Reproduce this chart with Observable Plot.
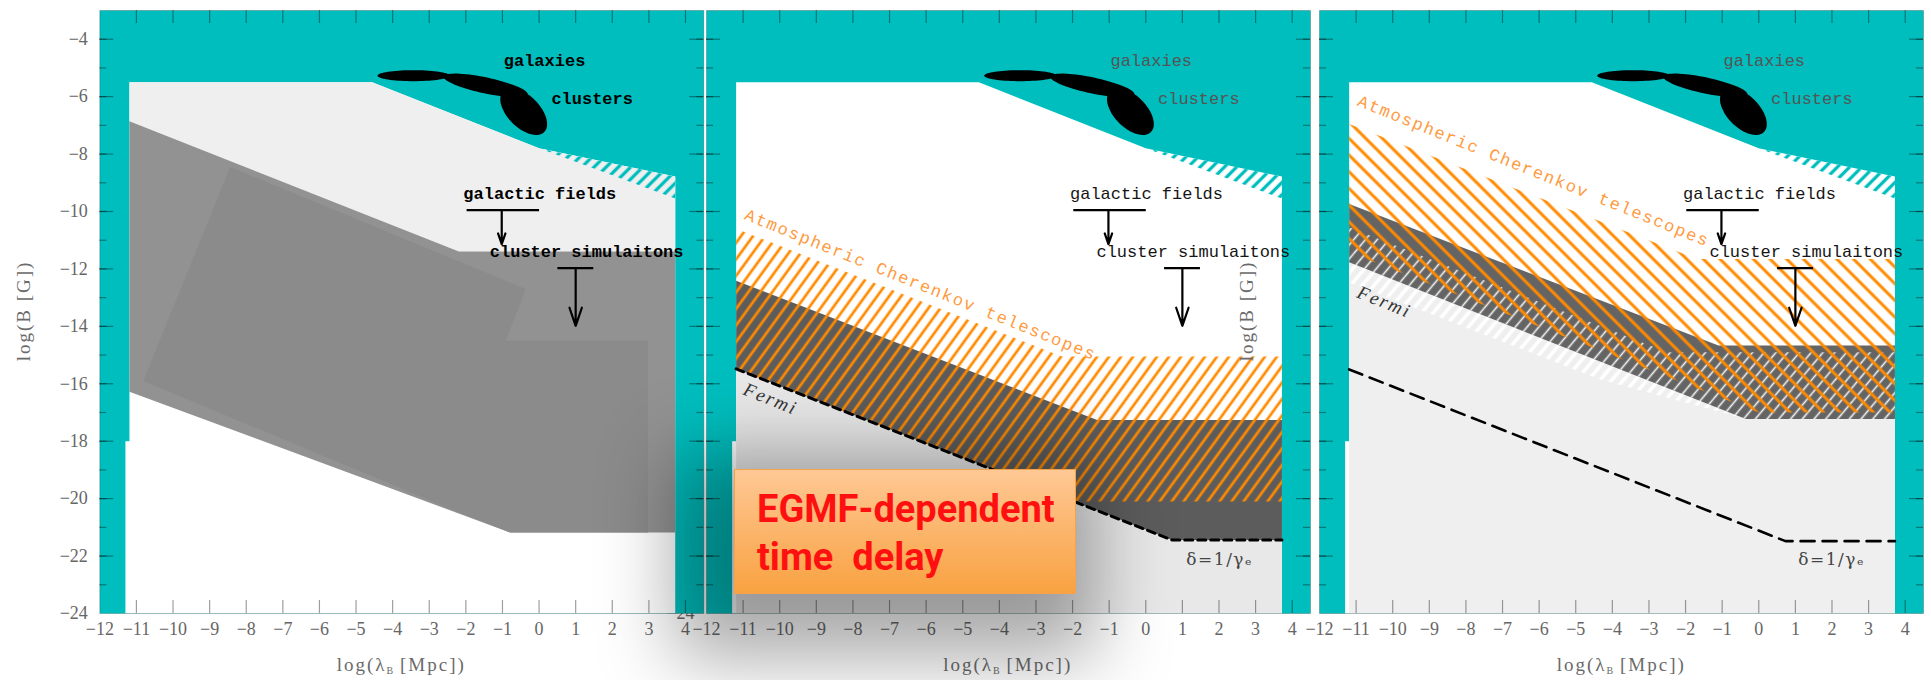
<!DOCTYPE html>
<html>
<head>
<meta charset="utf-8">
<script src="https://cdn.jsdelivr.net/npm/d3@7"></script>
<script src="https://cdn.jsdelivr.net/npm/@observablehq/plot@0.6"></script>
<style>
  html, body { margin: 0; padding: 0; background: #fff; }
  #stage { position: relative; width: 1931px; height: 680px; overflow: hidden; background: #fff; }
  .panel { position: absolute; top: 0; }
  .panel svg { overflow: visible; }
  .xtitle, .ytitle {
    position: absolute; font-family: "Liberation Serif", serif; font-size: 19px;
    color: #6a6a6a; letter-spacing: 2px; white-space: nowrap;
  }
  .xtitle { transform: translate(-50%, -50%); }
  .ytitle { transform: translate(-50%, -50%) rotate(-90deg); }
  .xtitle sub { font-size: 10px; vertical-align: -3px; letter-spacing: 0; }
  #egmf {
    position: absolute; left: 734px; top: 469px; width: 342px; height: 125px;
    box-sizing: border-box; padding: 15px 0 0 22px;
    font-family: Roboto, "DejaVu Sans", sans-serif; font-weight: 700; font-size: 38px; line-height: 48px;
    color: #ff1010; white-space: pre;
    background: linear-gradient(#fec895, #f9a241);
    border: 1px solid #f4a24c;
    box-shadow: -20px 24px 75px 40px rgba(0,0,0,0.34);
  }
</style>
</head>
<body>
<svg width="0" height="0" style="position:absolute">
  <defs>
    <pattern id="tealHatch" patternUnits="userSpaceOnUse" width="8.6" height="10" patternTransform="rotate(45)">
      <line x1="4.3" y1="0" x2="4.3" y2="10" stroke="#00bebe" stroke-width="3.3"/>
    </pattern>
    <pattern id="orangeSlash" patternUnits="userSpaceOnUse" width="9.7" height="10" patternTransform="rotate(36)">
      <line x1="4.8" y1="0" x2="4.8" y2="10" stroke="#ff8a00" stroke-width="2.7"/>
    </pattern>
    <pattern id="orangeBack" patternUnits="userSpaceOnUse" width="11.8" height="10" patternTransform="rotate(-45)">
      <line x1="5.9" y1="0" x2="5.9" y2="10" stroke="#ff8a00" stroke-width="3"/>
    </pattern>
    <pattern id="whiteWide" patternUnits="userSpaceOnUse" width="9" height="10" patternTransform="rotate(40)">
      <line x1="4.5" y1="0" x2="4.5" y2="10" stroke="#ffffff" stroke-width="3.6"/>
    </pattern>
    <pattern id="whiteThin" patternUnits="userSpaceOnUse" width="9" height="10" patternTransform="rotate(40)">
      <line x1="4.5" y1="0" x2="4.5" y2="10" stroke="#f4f4f4" stroke-width="1.6"/>
    </pattern>
  </defs>
</svg>
<div id="stage"></div>
<script>
// ---- axes ---------------------------------------------------------------
const xTickValues = [-12, -11, -10, -9, -8, -7, -6, -5, -4, -3, -2, -1, 0, 1, 2, 3, 4];
const yMinorTicks = [-23, -22, -21, -20, -19, -18, -17, -16, -15, -14, -13, -12, -11, -10, -9, -8, -7, -6, -5, -4];
const yMajorTicks = [-22, -20, -18, -16, -14, -12, -10, -8, -6, -4];
const yLabelValues = [-24, -22, -20, -18, -16, -14, -12, -10, -8, -6, -4];
const X_DOMAIN = [-12, 4.5];
const Y_DOMAIN = [-24, -3];

// ---- regions shared by all panels (log λ_B, log B) ----------------------
const allowedRegion = [[-11.19, -5.5], [-4.56, -5.5], [0, -7.8], [3.72, -8.78], [3.72, -24], [-11.3, -24], [-11.3, -18], [-11.19, -18]];
const uncertainEdge = [[0, -7.8], [3.72, -8.78], [3.72, -9.55]];

// panel 1: excluded / allowed bands
const p1Upper = [[-11.19, -5.5], [-4.56, -5.5], [0, -7.8], [3.72, -8.78], [3.72, -11.39], [-2.19, -11.39], [-11.19, -6.86]];
const p1Band = [[-11.19, -6.86], [-2.19, -11.39], [3.72, -11.39], [3.72, -21.18], [-0.79, -21.18], [-11.19, -16.28]];
const p1Inset = [[-8.44, -8.45], [-0.36, -12.7], [-0.91, -14.5], [2.98, -14.5], [2.98, -21.18], [-0.79, -21.18], [-2.73, -20.2], [-10.81, -15.9]];

// panel 2: Fermi and ACT sensitivity
const p2Below = [[-11.19, -15.48], [0.72, -21.44], [3.72, -21.44], [3.72, -24], [-11.19, -24]];
const p2Fermi = [[-11.19, -12.41], [-1.33, -17.26], [3.72, -17.26], [3.72, -21.44], [0.72, -21.44], [-11.19, -15.48]];
const p2Act = [[-11.19, -10.6], [-2.29, -15.05], [3.72, -15.05], [3.72, -20.1], [-1.98, -20.1], [-11.19, -15.48]];
const p2Limit = [[-11.19, -15.48], [0.72, -21.44], [3.72, -21.44]];

// panel 3: shifted sensitivity bands
const p3Below = [[-11.19, -10.55], [-2.5, -14.9], [3.72, -14.9], [3.72, -24], [-11.19, -24]];
const p3FermiHatch = [[-11.19, -10.55], [-2.5, -14.9], [3.72, -14.9], [3.72, -17.23], [-0.35, -17.23], [-4.33, -15.85], [-11.19, -12.47]];
const p3Fermi = [[-11.19, -9.74], [-1.1, -14.67], [3.72, -14.67], [3.72, -17.23], [-0.35, -17.23], [-11.19, -11.77]];
const p3FermiOverlap = [[-11.19, -10.55], [-2.5, -14.9], [3.72, -14.9], [3.72, -17.23], [-0.35, -17.23], [-11.19, -11.77]];
const p3Act = [[-11.19, -6.95], [-1.7, -11.65], [3.72, -11.65], [3.72, -17.0], [0, -17.0], [-11.19, -11.42]];
const p3Limit = [[-11.19, -15.5], [0.73, -21.48], [3.72, -21.48]];

// ---- annotations ---------------------------------------------------------
const siteNames = ["galaxies", "clusters"];
const siteX = [0.15, 1.45];
const siteY = [-4.75, -6.06];
const limitNames = ["galactic fields", "cluster simulaitons"];
const limitX = [0.02, 1.3];
const limitY = [-9.38, -11.38];
const limitBarFrom = [-1.98, 0.5];
const limitBarTo = [0, 1.48];
const limitBarY = [-9.95, -11.97];
const limitArrowX = [-1.02, 1.0];
const limitArrowTo = [-11.14, -13.98];
const blobCentres = [[-3.43, -5.27], [-1.46, -5.61], [-0.42, -6.52]];

const actName = "Atmospheric Cherenkov telescopes";
const actStartX = [-10.99, -10.99];   // panel 2, panel 3
const actStartY = [-10.26, -6.3];
const fermiName = "Fermi";
const fermiX = [-10.25, -10.23];
const fermiY = [-16.53, -13.15];
const deltaName = "δ=1/γₑ";
const deltaX = [2.02, 1.99];
const deltaY = [-22.12, -22.12];

// ---- layout --------------------------------------------------------------
const TEAL = "#00bebe";
const H = 680, MT = 10, MB = 67, FRAME_W = 604;
const FRAME_H = H - MT - MB;
const KX = FRAME_W / (X_DOMAIN[1] - X_DOMAIN[0]);
const KY = FRAME_H / (Y_DOMAIN[1] - Y_DOMAIN[0]);
const blobShape = [[36, 5.5, 0], [43, 8, 12], [29, 16, 45]]; // rx, ry (px), tilt (deg)
const letterSpacing = {[actName]: "1.6px", [fermiName]: "2px", [deltaName]: "1.5px"};

const fmt = d => d < 0 ? "\u2212" + Math.abs(d) : String(d);

function poly(points, fill, extra = {}) {
  return Plot.line(points, {x: d => d[0], y: d => d[1], fill, stroke: "none", curve: "linear-closed", ...extra});
}
function ellipse([cx, cy], [rx, ry, deg]) {
  const a = deg * Math.PI / 180;
  return d3.range(72).map(i => {
    const t = (i / 72) * 2 * Math.PI;
    const dx = rx * Math.cos(t) * Math.cos(a) - ry * Math.sin(t) * Math.sin(a);
    const dy = rx * Math.cos(t) * Math.sin(a) + ry * Math.sin(t) * Math.cos(a);
    return [cx + dx / KX, cy - dy / KY];
  });
}

function commonAnnotations(bold) {
  const sites = siteNames.map((t, i) => ({t, x: siteX[i], y: siteY[i]}));
  const limits = limitNames.map((t, i) => ({
    t, x: limitX[i], y: limitY[i], bx1: limitBarFrom[i], bx2: limitBarTo[i], by: limitBarY[i],
    ax: limitArrowX[i], ay: limitArrowTo[i]
  }));
  const font = {fontFamily: "Liberation Mono, DejaVu Sans Mono, monospace", fontSize: 17, fontWeight: bold ? "bold" : "normal"};
  return [
    ...blobCentres.map((c, i) => poly(ellipse(c, blobShape[i]), "#000")),
    Plot.text(sites, {x: "x", y: "y", text: "t", ...font, fill: bold ? "#000" : "#555"}),
    Plot.link(limits, {x1: "bx1", x2: "bx2", y1: "by", y2: "by", stroke: "#000", strokeWidth: 2.2}),
    Plot.arrow(limits, {x1: "ax", x2: "ax", y1: "by", y2: "ay", stroke: "#000", strokeWidth: 2.2, headLength: 13, headAngle: 38}),
    Plot.text(limits, {x: "x", y: "y", text: "t", ...font, fill: bold ? "#000" : "#151515"})
  ];
}

function frameTicks() {
  const tick = {stroke: "#000", strokeOpacity: 0.38, strokeWidth: 1.2};
  const inner = xTickValues.slice(1);
  return [
    Plot.tickX(inner, {x: d => d, insetBottom: FRAME_H - 13, ...tick}),
    Plot.tickX(inner, {x: d => d, insetTop: FRAME_H - 13, ...tick}),
    Plot.tickY(yMinorTicks, {y: d => d, insetRight: FRAME_W - 7, ...tick}),
    Plot.tickY(yMajorTicks, {y: d => d, insetRight: FRAME_W - 14, ...tick}),
    Plot.tickY(yMinorTicks, {y: d => d, insetLeft: FRAME_W - 7, ...tick}),
    Plot.tickY(yMajorTicks, {y: d => d, insetLeft: FRAME_W - 14, ...tick}),
    Plot.frame({stroke: "#000", strokeOpacity: 0.22})
  ];
}

function axisLabels(withY) {
  const txt = {fontFamily: "Liberation Serif, serif", fontSize: 18, fill: "#666"};
  const out = [
    Plot.axisX({anchor: "bottom", ticks: xTickValues, tickSize: 0, tickPadding: 9, tickFormat: fmt, label: null, ...txt})
  ];
  if (withY) out.push(Plot.axisY({anchor: "left", ticks: yLabelValues, tickSize: 0, tickPadding: 12, tickFormat: fmt, label: null, ...txt}));
  return out;
}

function sensitivityLabels(k) {
  return [
    Plot.text([actName], {x: actStartX[k], y: actStartY[k], textAnchor: "start", lineAnchor: "bottom", rotate: 22,
      fontFamily: "Liberation Mono, monospace", fontSize: 17, fill: "#ff9a40"}),
    Plot.text([fermiName], {x: fermiX[k], y: fermiY[k], rotate: 22, fontFamily: "Liberation Serif, serif",
      fontStyle: "italic", fontSize: 19, fill: "#333"}),
    Plot.text([deltaName], {x: deltaX[k], y: deltaY[k], fontFamily: "DejaVu Serif, serif", fontSize: 17, fill: "#444"})
  ];
}

function makePanel(left, marginLeft, marginRight, withYAxis, marks) {
  const svg = Plot.plot({
    width: marginLeft + FRAME_W + marginRight, height: H,
    marginLeft, marginRight, marginTop: MT, marginBottom: MB,
    x: {domain: X_DOMAIN},
    y: withYAxis ? {domain: Y_DOMAIN} : {domain: Y_DOMAIN, axis: null},
    style: {background: "transparent", overflow: "visible", maxWidth: "none"},
    marks
  });
  // widen the tracking of the lettered annotations
  svg.querySelectorAll("text").forEach(el => {
    const ls = letterSpacing[el.textContent];
    if (ls) el.style.letterSpacing = ls;
  });
  const div = document.createElement("div");
  div.className = "panel";
  div.style.left = (left - marginLeft) + "px";
  div.appendChild(svg);
  document.getElementById("stage").appendChild(div);
}

// panel 2 (drawn first: its left labels sit under panel 1)
makePanel(705.7, 100, 1, true, [
  Plot.frame({fill: TEAL}),
  poly(allowedRegion, "#fff"),
  poly(p2Below, "#e8e8e8"),
  poly(uncertainEdge, "url(#tealHatch)"),
  poly(p2Fermi, "#5c5c5c"),
  poly(p2Act, "url(#orangeSlash)"),
  Plot.line(p2Limit, {x: d => d[0], y: d => d[1], stroke: "#000", strokeWidth: 3, strokeDasharray: "8,5"}),
  ...commonAnnotations(false),
  ...sensitivityLabels(0),
  ...frameTicks(),
  ...axisLabels(true)
]);

// panel 3
makePanel(1319.3, 100, 8, false, [
  Plot.frame({fill: TEAL}),
  poly(allowedRegion, "#fff"),
  poly(p3Below, "#efefef"),
  poly(uncertainEdge, "url(#tealHatch)"),
  poly(p3FermiHatch, "url(#whiteWide)"),
  poly(p3Fermi, "#646464"),
  poly(p3FermiOverlap, "url(#whiteThin)"),
  poly(p3Act, "url(#orangeBack)"),
  Plot.line(p3Limit, {x: d => d[0], y: d => d[1], stroke: "#000", strokeWidth: 2.6, strokeDasharray: "14,8"}),
  ...commonAnnotations(false),
  ...sensitivityLabels(1),
  ...frameTicks(),
  ...axisLabels(false)
]);

// panel 1
makePanel(99.3, 99.3, 1, true, [
  Plot.frame({fill: TEAL}),
  poly(allowedRegion, "#fff"),
  poly(p1Upper, "#efefef"),
  poly(uncertainEdge, "url(#tealHatch)"),
  poly(p1Band, "#929292"),
  poly(p1Inset, "#8b8b8b"),
  ...commonAnnotations(true),
  ...frameTicks(),
  ...axisLabels(true)
]);

// axis titles
const stage = document.getElementById("stage");
[401.3, 1007.7, 1621.3].forEach(cx => {
  const t = document.createElement("div");
  t.className = "xtitle";
  t.style.left = cx + "px"; t.style.top = "665px";
  t.innerHTML = "log(λ<sub>B</sub> [Mpc])";
  stage.appendChild(t);
});
[24, 1247].forEach(cx => {
  const t = document.createElement("div");
  t.className = "ytitle";
  t.style.left = cx + "px"; t.style.top = "311px";
  t.textContent = "log(B [G])";
  stage.appendChild(t);
});

// callout
const box = document.createElement("div");
box.id = "egmf";
box.textContent = "EGMF-dependent\ntime  delay";
stage.appendChild(box);
</script>
</body>
</html>
